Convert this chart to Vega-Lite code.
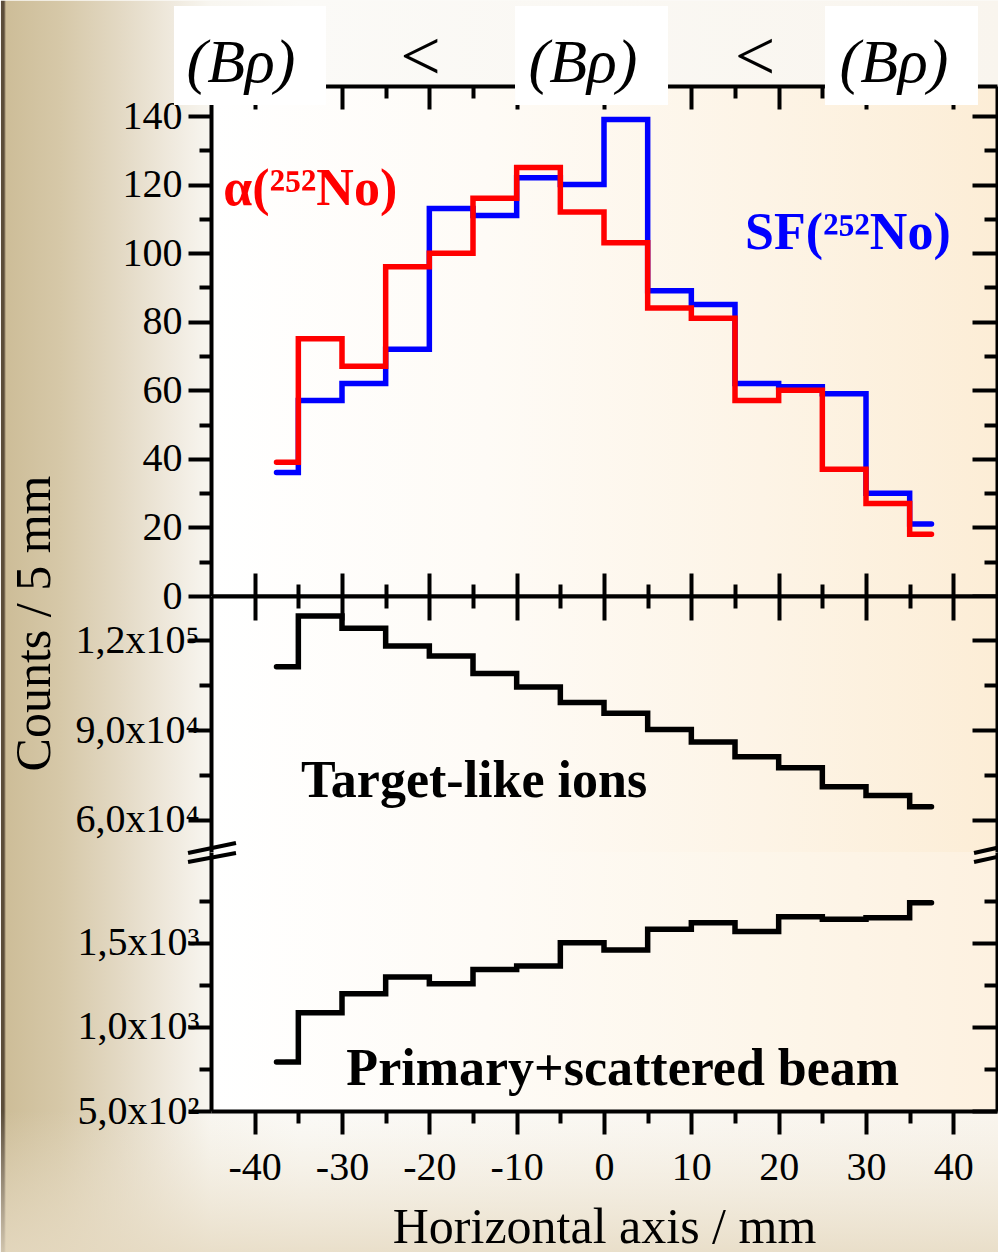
{
  "$schema": "https://vega.github.io/schema/vega-lite/v6.json",
  "padding": 0,
  "bounds": "flush",
  "spacing": 0,
  "background": "#fbfaf7",
  "config": {
    "view": {"stroke": null},
    "axis": {
      "domainColor": "black", "domainWidth": 4, "tickColor": "black", "tickWidth": 4,
      "labelFont": "Liberation Serif", "labelColor": "black", "titleFont": "Liberation Serif",
      "titleColor": "black", "titleFontWeight": "normal", "grid": false,
      "labelFlush": false, "labelOverlap": false
    }
  },
  "datasets": {
    "bins": [
      {"x": -37.5, "sf": 36, "alpha": 39, "target": 111200, "beam": 791},
      {"x": -32.5, "sf": 57, "alpha": 75, "target": 128100, "beam": 1084},
      {"x": -27.5, "sf": 62, "alpha": 67, "target": 124000, "beam": 1197},
      {"x": -22.5, "sf": 72, "alpha": 96, "target": 118100, "beam": 1297},
      {"x": -17.5, "sf": 113, "alpha": 100, "target": 114800, "beam": 1257},
      {"x": -12.5, "sf": 111, "alpha": 116, "target": 108900, "beam": 1342},
      {"x": -7.5, "sf": 122, "alpha": 125, "target": 104400, "beam": 1362},
      {"x": -2.5, "sf": 120, "alpha": 112, "target": 99200, "beam": 1501},
      {"x": 2.5, "sf": 139, "alpha": 103, "target": 95600, "beam": 1457},
      {"x": 7.5, "sf": 89, "alpha": 84, "target": 90200, "beam": 1580},
      {"x": 12.5, "sf": 85, "alpha": 81, "target": 86000, "beam": 1620},
      {"x": 17.5, "sf": 62, "alpha": 57, "target": 81100, "beam": 1568},
      {"x": 22.5, "sf": 61, "alpha": 60, "target": 77400, "beam": 1655},
      {"x": 27.5, "sf": 59, "alpha": 37, "target": 71100, "beam": 1640},
      {"x": 32.5, "sf": 30, "alpha": 27, "target": 68200, "beam": 1649},
      {"x": 37.5, "sf": 21, "alpha": 18, "target": 64400, "beam": 1738}
    ]
  },
  "vconcat": [
    {
      "width": 786, "height": 510,
      "resolve": {"axis": {"x": "independent", "y": "independent"}},
      "layer": [
        {
          "data": {"values": [{}]},
          "mark": {"type": "rect", "clip": false, "fill": {"gradient": "linear", "x1": 0, "y1": 0, "x2": 1, "y2": 0, "stops": [
            {"offset": 0, "color": "#5b4d3a"}, {"offset": 0.003, "color": "#5b4d3a"}, {"offset": 0.005, "color": "#cdbd98"},
            {"offset": 0.06, "color": "#d6c8a8"}, {"offset": 0.12, "color": "#e3d9c4"}, {"offset": 0.17, "color": "#efe9dd"},
            {"offset": 0.21, "color": "#f8f6f0"}, {"offset": 0.3, "color": "#fbfaf7"}, {"offset": 1, "color": "#f9f5ee"}]}},
          "encoding": {
            "x": {"datum": -69.05, "type": "quantitative", "axis": null}, "x2": {"datum": 45.3},
            "y": {"datum": 173.6, "type": "quantitative", "axis": null}, "y2": {"datum": -191.7}
          }
        },
        {
          "data": {"values": [{}]},
          "mark": {"type": "rect", "clip": false, "fill": {"gradient": "linear", "x1": 0, "y1": 0, "x2": 0, "y2": 1, "stops": [
            {"offset": 0, "color": "rgba(238,229,210,0)"}, {"offset": 1, "color": "rgba(230,218,194,0.85)"}]}},
          "encoding": {
            "x": {"datum": -69.05, "type": "quantitative", "axis": null}, "x2": {"datum": 45.3},
            "y": {"datum": -150.2, "type": "quantitative", "axis": null}, "y2": {"datum": -191.7}
          }
        },
        {
          "data": {"values": [{}]},
          "mark": {"type": "rect", "clip": false, "fill": {"gradient": "linear", "x1": 0, "y1": 0, "x2": 1, "y2": 0, "stops": [
            {"offset": 0, "color": "#ffffff"}, {"offset": 0.35, "color": "#fefbf6"}, {"offset": 0.7, "color": "#fdf4e6"}, {"offset": 1, "color": "#fcedd6"}]}},
          "encoding": {
            "x": {"datum": -45, "type": "quantitative", "axis": null}, "x2": {"datum": 45},
            "y": {"datum": 148.75, "type": "quantitative", "axis": null}, "y2": {"datum": 0}
          }
        },
        {
          "data": {"name": "bins"},
          "mark": {"type": "point", "opacity": 0},
          "encoding": {
            "x": {"field": "x", "type": "quantitative", "scale": {"domain": [-45, 45], "nice": false, "zero": false},
              "axis": {"orient": "top", "values": [-40, -30, -20, -10, 0, 10, 20, 30, 40], "tickSize": -23, "labels": false, "domain": true, "title": null, "zindex": 1, "domainWidth": 4, "tickWidth": 4, "domainColor": "black", "tickColor": "black"}},
            "y": {"field": "sf", "type": "quantitative", "scale": {"domain": [0, 148.75], "nice": false, "zero": false},
              "axis": {"orient": "right", "values": [0, 20, 40, 60, 80, 100, 120, 140], "tickSize": -25, "labels": false, "domain": true, "title": null, "zindex": 1, "domainWidth": 4, "tickWidth": 4, "domainColor": "black", "tickColor": "black"}}
          }
        },
        {
          "data": {"name": "bins"},
          "mark": {"type": "point", "opacity": 0},
          "encoding": {
            "x": {"field": "x", "type": "quantitative", "scale": {"domain": [-45, 45], "nice": false, "zero": false},
              "axis": {"orient": "top", "values": [-35, -25, -15, -5, 5, 15, 25, 35], "tickSize": -12, "labels": false, "domain": false, "title": null, "zindex": 1, "tickWidth": 4, "tickColor": "black"}},
            "y": {"field": "sf", "type": "quantitative", "scale": {"domain": [0, 148.75], "nice": false, "zero": false},
              "axis": {"orient": "right", "values": [10, 30, 50, 70, 90, 110, 130], "tickSize": -13, "labels": false, "domain": false, "title": null, "zindex": 1, "tickWidth": 4, "tickColor": "black"}}
          }
        },
        {
          "data": {"name": "bins"},
          "mark": {"type": "line", "interpolate": "step", "color": "#0000ff", "strokeWidth": 5.5, "strokeCap": "round"},
          "encoding": {
            "x": {"field": "x", "type": "quantitative", "scale": {"domain": [-45, 45], "nice": false, "zero": false},
              "axis": {"orient": "bottom", "values": [-40, -30, -20, -10, 0, 10, 20, 30, 40], "tickSize": -23, "labels": false, "domain": true, "title": null, "zindex": 1, "domainWidth": 4, "tickWidth": 4, "domainColor": "black", "tickColor": "black"}},
            "y": {"field": "sf", "type": "quantitative", "scale": {"domain": [0, 148.75], "nice": false, "zero": false},
              "axis": {"orient": "left", "values": [0, 20, 40, 60, 80, 100, 120, 140], "tickSize": 23, "labelFontSize": 40, "labelPadding": 6, "domain": true, "title": null, "zindex": 1, "domainWidth": 4, "tickWidth": 4, "domainColor": "black", "tickColor": "black"}}
          }
        },
        {
          "data": {"name": "bins"},
          "mark": {"type": "line", "interpolate": "step", "color": "#ff0000", "strokeWidth": 5.5, "strokeCap": "round"},
          "encoding": {
            "x": {"field": "x", "type": "quantitative", "scale": {"domain": [-45, 45], "nice": false, "zero": false},
              "axis": {"orient": "bottom", "values": [-35, -25, -15, -5, 5, 15, 25, 35], "tickSize": -12, "labels": false, "domain": false, "title": null, "zindex": 1, "tickWidth": 4, "tickColor": "black"}},
            "y": {"field": "alpha", "type": "quantitative", "scale": {"domain": [0, 148.75], "nice": false, "zero": false},
              "axis": {"orient": "left", "values": [10, 30, 50, 70, 90, 110, 130], "tickSize": 12, "labels": false, "domain": false, "title": null, "zindex": 1, "tickWidth": 4, "tickColor": "black"}}
          }
        },
        {
          "data": {"values": [{}]},
          "mark": {"type": "text", "text": "α(²⁵²No)", "font": "Liberation Serif", "fontSize": 52, "fontWeight": "bold", "color": "#ff0000", "align": "left", "baseline": "middle"},
          "encoding": {
            "x": {"datum": -43.6, "type": "quantitative", "axis": null},
            "y": {"datum": 118.7, "type": "quantitative", "axis": null}
          }
        },
        {
          "data": {"values": [{}]},
          "mark": {"type": "text", "text": "SF(²⁵²No)", "font": "Liberation Serif", "fontSize": 52, "fontWeight": "bold", "color": "#0000ff", "align": "right", "baseline": "middle"},
          "encoding": {
            "x": {"datum": 39.7, "type": "quantitative", "axis": null},
            "y": {"datum": 105.9, "type": "quantitative", "axis": null}
          }
        }
      ]
    },
    {
      "width": 786, "height": 256,
      "resolve": {"axis": {"x": "independent", "y": "independent"}},
      "layer": [
        {
          "data": {"values": [{}]},
          "mark": {"type": "rect", "clip": false, "fill": {"gradient": "linear", "x1": 0, "y1": 0, "x2": 1, "y2": 0, "stops": [
            {"offset": 0, "color": "#ffffff"}, {"offset": 0.35, "color": "#fefbf6"}, {"offset": 0.7, "color": "#fdf4e6"}, {"offset": 1, "color": "#fcedd6"}]}},
          "encoding": {
            "x": {"datum": -45, "type": "quantitative", "axis": null}, "x2": {"datum": 45},
            "y": {"datum": 134800, "type": "quantitative", "axis": null}, "y2": {"datum": 49300}
          }
        },
        {
          "data": {"name": "bins"},
          "mark": {"type": "point", "opacity": 0},
          "encoding": {
            "x": {"field": "x", "type": "quantitative", "scale": {"domain": [-45, 45], "nice": false, "zero": false},
              "axis": {"orient": "top", "values": [-35, -25, -15, -5, 5, 15, 25, 35], "tickSize": -12, "labels": false, "domain": false, "title": null, "zindex": 1, "tickWidth": 4, "tickColor": "black"}},
            "y": {"field": "target", "type": "quantitative", "scale": {"domain": [49300, 134800], "nice": false, "zero": false},
              "axis": {"orient": "left", "values": [75000, 105000], "tickSize": 12, "labels": false, "domain": false, "title": null, "zindex": 1, "tickWidth": 4, "tickColor": "black"}}
          }
        },
        {
          "data": {"name": "bins"},
          "mark": {"type": "point", "opacity": 0},
          "encoding": {
            "x": {"field": "x", "type": "quantitative", "scale": {"domain": [-45, 45], "nice": false, "zero": false}, "axis": null},
            "y": {"field": "target", "type": "quantitative", "scale": {"domain": [49300, 134800], "nice": false, "zero": false},
              "axis": {"orient": "right", "values": [60000, 90000, 120000], "tickSize": -25, "labels": false, "domain": true, "title": null, "zindex": 1, "domainWidth": 4, "tickWidth": 4, "domainColor": "black", "tickColor": "black"}}
          }
        },
        {
          "data": {"name": "bins"},
          "mark": {"type": "point", "opacity": 0},
          "encoding": {
            "x": {"field": "x", "type": "quantitative", "scale": {"domain": [-45, 45], "nice": false, "zero": false}, "axis": null},
            "y": {"field": "target", "type": "quantitative", "scale": {"domain": [49300, 134800], "nice": false, "zero": false},
              "axis": {"orient": "right", "values": [75000, 105000], "tickSize": -13, "labels": false, "domain": false, "title": null, "zindex": 1, "tickWidth": 4, "tickColor": "black"}}
          }
        },
        {
          "data": {"name": "bins"},
          "mark": {"type": "line", "interpolate": "step", "color": "black", "strokeWidth": 5.5, "strokeCap": "round"},
          "encoding": {
            "x": {"field": "x", "type": "quantitative", "scale": {"domain": [-45, 45], "nice": false, "zero": false},
              "axis": {"orient": "top", "values": [-40, -30, -20, -10, 0, 10, 20, 30, 40], "tickSize": -24, "labels": false, "domain": true, "title": null, "zindex": 1, "domainWidth": 4, "tickWidth": 4, "domainColor": "black", "tickColor": "black"}},
            "y": {"field": "target", "type": "quantitative", "scale": {"domain": [49300, 134800], "nice": false, "zero": false},
              "axis": {"orient": "left", "values": [60000, 90000, 120000], "tickSize": 23, "labelFontSize": 40, "labelPadding": -11,
                "labelExpr": "datum.value == 120000 ? '1,2x10⁵' : datum.value == 90000 ? '9,0x10⁴' : '6,0x10⁴'",
                "domain": true, "title": "Counts / 5 mm", "titleFontSize": 50, "titleAngle": 270, "titleX": -177, "titleY": 27,
                "titleAlign": "center", "titleBaseline": "middle", "zindex": 1, "domainWidth": 4, "tickWidth": 4, "domainColor": "black", "tickColor": "black"}}
          }
        },
        {
          "data": {"values": [{}]},
          "mark": {"type": "text", "text": "Target-like ions", "font": "Liberation Serif", "fontSize": 52, "fontWeight": "bold", "color": "black", "align": "left", "baseline": "middle"},
          "encoding": {
            "x": {"datum": -34.7, "type": "quantitative", "axis": null},
            "y": {"datum": 73020, "type": "quantitative", "axis": null}
          }
        }
      ]
    },
    {
      "width": 786, "height": 259,
      "resolve": {"axis": {"x": "independent", "y": "independent"}},
      "layer": [
        {
          "data": {"values": [{}]},
          "mark": {"type": "rect", "clip": false, "fill": {"gradient": "linear", "x1": 0, "y1": 0, "x2": 1, "y2": 0, "stops": [
            {"offset": 0, "color": "#ffffff"}, {"offset": 0.35, "color": "#fefbf6"}, {"offset": 0.7, "color": "#fdf6ea"}, {"offset": 1, "color": "#fdf1e0"}]}},
          "encoding": {
            "x": {"datum": -45, "type": "quantitative", "axis": null}, "x2": {"datum": 45},
            "y": {"datum": 2040, "type": "quantitative", "axis": null}, "y2": {"datum": 500}
          }
        },
        {
          "data": {"name": "bins"},
          "mark": {"type": "point", "opacity": 0},
          "encoding": {
            "x": {"field": "x", "type": "quantitative", "scale": {"domain": [-45, 45], "nice": false, "zero": false},
              "axis": {"orient": "bottom", "values": [-35, -25, -15, -5, 5, 15, 25, 35], "tickSize": 12, "labels": false, "domain": false, "title": null, "zindex": 1, "tickWidth": 4, "tickColor": "black"}},
            "y": {"field": "beam", "type": "quantitative", "scale": {"domain": [500, 2040], "nice": false, "zero": false},
              "axis": {"orient": "left", "values": [750, 1250, 1750], "tickSize": 12, "labels": false, "domain": false, "title": null, "zindex": 1, "tickWidth": 4, "tickColor": "black"}}
          }
        },
        {
          "data": {"name": "bins"},
          "mark": {"type": "point", "opacity": 0},
          "encoding": {
            "x": {"field": "x", "type": "quantitative", "scale": {"domain": [-45, 45], "nice": false, "zero": false}, "axis": null},
            "y": {"field": "beam", "type": "quantitative", "scale": {"domain": [500, 2040], "nice": false, "zero": false},
              "axis": {"orient": "right", "values": [500, 1000, 1500], "tickSize": -25, "labels": false, "domain": true, "title": null, "zindex": 1, "domainWidth": 4, "tickWidth": 4, "domainColor": "black", "tickColor": "black"}}
          }
        },
        {
          "data": {"name": "bins"},
          "mark": {"type": "point", "opacity": 0},
          "encoding": {
            "x": {"field": "x", "type": "quantitative", "scale": {"domain": [-45, 45], "nice": false, "zero": false}, "axis": null},
            "y": {"field": "beam", "type": "quantitative", "scale": {"domain": [500, 2040], "nice": false, "zero": false},
              "axis": {"orient": "right", "values": [750, 1250, 1750], "tickSize": -13, "labels": false, "domain": false, "title": null, "zindex": 1, "tickWidth": 4, "tickColor": "black"}}
          }
        },
        {
          "data": {"name": "bins"},
          "mark": {"type": "line", "interpolate": "step", "color": "black", "strokeWidth": 5.5, "strokeCap": "round"},
          "encoding": {
            "x": {"field": "x", "type": "quantitative", "scale": {"domain": [-45, 45], "nice": false, "zero": false},
              "axis": {"orient": "bottom", "values": [-40, -30, -20, -10, 0, 10, 20, 30, 40], "tickSize": 23, "labelFontSize": 40,
                "labelExpr": "datum.value < 0 ? '-' + abs(datum.value) : '' + datum.value", "labelBaseline": "middle", "labelPadding": 33,
                "domain": true, "title": "Horizontal axis / mm", "titleFontSize": 50, "titleY": 131, "titleBaseline": "alphabetic",
                "zindex": 1, "domainWidth": 4, "tickWidth": 4, "domainColor": "black", "tickColor": "black"}},
            "y": {"field": "beam", "type": "quantitative", "scale": {"domain": [500, 2040], "nice": false, "zero": false},
              "axis": {"orient": "left", "values": [500, 1000, 1500], "tickSize": 23, "labelFontSize": 40, "labelPadding": -11,
                "labelExpr": "datum.value == 1500 ? '1,5x10³' : datum.value == 1000 ? '1,0x10³' : '5,0x10²'",
                "domain": true, "title": null, "zindex": 1, "domainWidth": 4, "tickWidth": 4, "domainColor": "black", "tickColor": "black"}}
          }
        },
        {
          "data": {"values": [{}]},
          "mark": {"type": "text", "text": "Primary+scattered beam", "font": "Liberation Serif", "fontSize": 52, "fontWeight": "bold", "color": "black", "align": "left", "baseline": "middle"},
          "encoding": {
            "x": {"datum": -29.5, "type": "quantitative", "axis": null},
            "y": {"datum": 750, "type": "quantitative", "axis": null}
          }
        },
        {
          "data": {"values": [{}]},
          "mark": {"type": "rule", "clip": false, "color": "black", "strokeWidth": 4},
          "encoding": {
            "x": {"datum": -47.63, "type": "quantitative", "axis": null}, "x2": {"datum": -42.14},
            "y": {"datum": 2034, "type": "quantitative", "axis": null}, "y2": {"datum": 2094}
          }
        },
        {
          "data": {"values": [{}]},
          "mark": {"type": "rule", "clip": false, "color": "black", "strokeWidth": 4},
          "encoding": {
            "x": {"datum": -47.63, "type": "quantitative", "axis": null}, "x2": {"datum": -42.14},
            "y": {"datum": 1981, "type": "quantitative", "axis": null}, "y2": {"datum": 2034}
          }
        },
        {
          "data": {"values": [{}]},
          "mark": {"type": "rule", "clip": false, "color": "black", "strokeWidth": 4},
          "encoding": {
            "x": {"datum": 42.37, "type": "quantitative", "axis": null}, "x2": {"datum": 45.46},
            "y": {"datum": 2034, "type": "quantitative", "axis": null}, "y2": {"datum": 2070}
          }
        },
        {
          "data": {"values": [{}]},
          "mark": {"type": "rule", "clip": false, "color": "black", "strokeWidth": 4},
          "encoding": {
            "x": {"datum": 42.37, "type": "quantitative", "axis": null}, "x2": {"datum": 45.46},
            "y": {"datum": 1981, "type": "quantitative", "axis": null}, "y2": {"datum": 2016}
          }
        },
        {
          "data": {"values": [{}]},
          "mark": {"type": "rect", "clip": false, "fill": "white"},
          "encoding": {
            "x": {"datum": -49.24, "type": "quantitative", "axis": null}, "x2": {"datum": -31.83},
            "y": {"datum": 7070, "type": "quantitative", "axis": null}, "y2": {"datum": 6482}
          }
        },
        {
          "data": {"values": [{}]},
          "mark": {"type": "rect", "clip": false, "fill": "white"},
          "encoding": {
            "x": {"datum": -10.19, "type": "quantitative", "axis": null}, "x2": {"datum": 7.33},
            "y": {"datum": 7070, "type": "quantitative", "axis": null}, "y2": {"datum": 6482}
          }
        },
        {
          "data": {"values": [{}]},
          "mark": {"type": "rect", "clip": false, "fill": "white"},
          "encoding": {
            "x": {"datum": 25.3, "type": "quantitative", "axis": null}, "x2": {"datum": 42.82},
            "y": {"datum": 7070, "type": "quantitative", "axis": null}, "y2": {"datum": 6482}
          }
        },
        {
          "data": {"values": [{}]},
          "mark": {"type": "text", "text": "(Bρ)", "font": "Liberation Serif", "fontSize": 62, "fontStyle": "italic", "color": "black", "align": "center", "baseline": "middle"},
          "encoding": {
            "x": {"datum": -41.56, "type": "quantitative", "axis": null},
            "y": {"datum": 6731, "type": "quantitative", "axis": null}
          }
        },
        {
          "data": {"values": [{}]},
          "mark": {"type": "text", "text": "(Bρ)", "font": "Liberation Serif", "fontSize": 62, "fontStyle": "italic", "color": "black", "align": "center", "baseline": "middle"},
          "encoding": {
            "x": {"datum": -2.4, "type": "quantitative", "axis": null},
            "y": {"datum": 6731, "type": "quantitative", "axis": null}
          }
        },
        {
          "data": {"values": [{}]},
          "mark": {"type": "text", "text": "(Bρ)", "font": "Liberation Serif", "fontSize": 62, "fontStyle": "italic", "color": "black", "align": "center", "baseline": "middle"},
          "encoding": {
            "x": {"datum": 33.21, "type": "quantitative", "axis": null},
            "y": {"datum": 6731, "type": "quantitative", "axis": null}
          }
        },
        {
          "data": {"values": [{}]},
          "mark": {"type": "text", "text": "<", "font": "Liberation Serif", "fontSize": 72, "color": "black", "align": "center", "baseline": "middle"},
          "encoding": {
            "x": {"datum": -21.0, "type": "quantitative", "axis": null},
            "y": {"datum": 6760, "type": "quantitative", "axis": null}
          }
        },
        {
          "data": {"values": [{}]},
          "mark": {"type": "text", "text": "<", "font": "Liberation Serif", "fontSize": 72, "color": "black", "align": "center", "baseline": "middle"},
          "encoding": {
            "x": {"datum": 17.3, "type": "quantitative", "axis": null},
            "y": {"datum": 6760, "type": "quantitative", "axis": null}
          }
        }
      ]
    }
  ]
}
